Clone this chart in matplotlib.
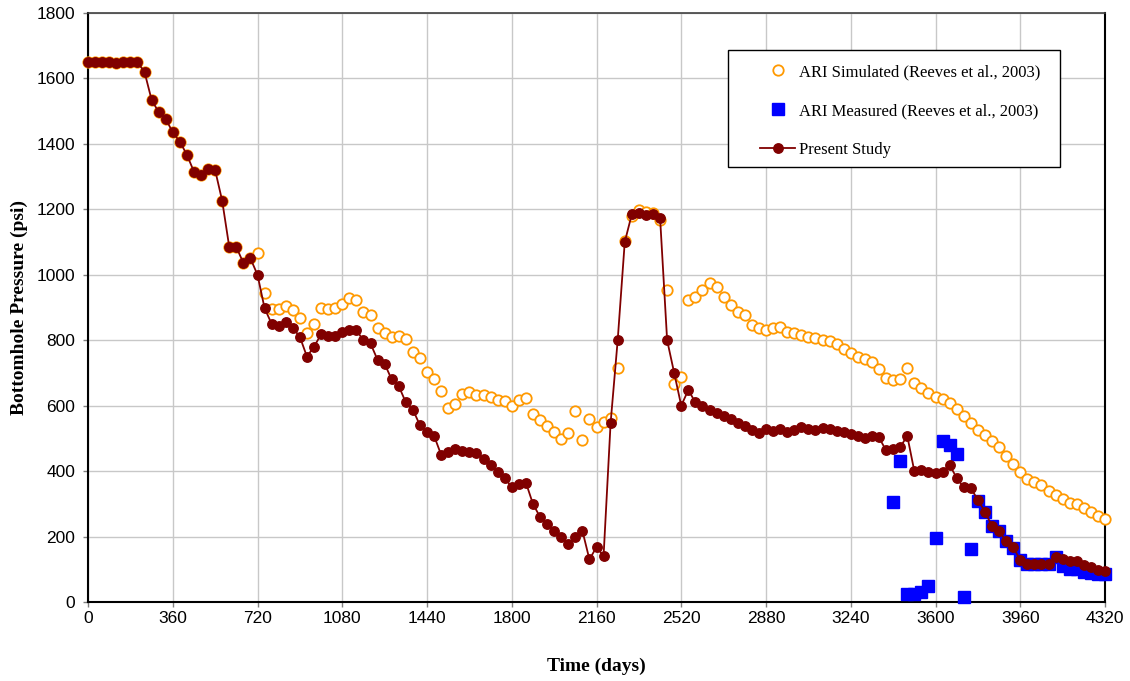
import numpy as np
import matplotlib
matplotlib.use("Agg")
import matplotlib.pyplot as plt
from matplotlib.patches import Rectangle

# time axis (days), one value per month
days = [0, 30, 60, 90, 120, 150, 180, 210, 240, 270, 300, 330, 360, 390, 420, 450,
        480, 510, 540, 570, 600, 630, 660, 690, 720, 750, 780, 810, 840, 870, 900,
        930, 960, 990, 1020, 1050, 1080, 1110, 1140, 1170, 1200, 1230, 1260, 1290,
        1320, 1350, 1380, 1410, 1440, 1470, 1500, 1530, 1560, 1590, 1620, 1650,
        1680, 1710, 1740, 1770, 1800, 1830, 1860, 1890, 1920, 1950, 1980, 2010,
        2040, 2070, 2100, 2130, 2160, 2190, 2220, 2250, 2280, 2310, 2340, 2370,
        2400, 2430, 2460, 2490, 2520, 2550, 2580, 2610, 2640, 2670, 2700, 2730,
        2760, 2790, 2820, 2850, 2880, 2910, 2940, 2970, 3000, 3030, 3060, 3090,
        3120, 3150, 3180, 3210, 3240, 3270, 3300, 3330, 3360, 3390, 3420, 3450,
        3480, 3510, 3540, 3570, 3600, 3630, 3660, 3690, 3720, 3750, 3780, 3810,
        3840, 3870, 3900, 3930, 3960, 3990, 4020, 4050, 4080, 4110, 4140, 4170,
        4200, 4230, 4260, 4290, 4320]

# Present Study bottomhole pressure (psi)
present = [1650, 1650, 1650, 1650, 1648, 1650, 1650, 1650, 1620, 1535, 1497, 1477,
           1435, 1407, 1367, 1315, 1306, 1323, 1320, 1226, 1085, 1085, 1036, 1050,
           1000, 898, 850, 843, 855, 838, 810, 750, 780, 818, 813, 813, 825, 830,
           830, 800, 790, 740, 728, 680, 660, 610, 588, 540, 520, 508, 450, 458,
           468, 462, 457, 454, 438, 418, 398, 380, 350, 361, 365, 300, 260, 238,
           218, 198, 178, 198, 218, 130, 168, 140, 548, 800, 1100, 1185, 1190,
           1182, 1186, 1175, 800, 700, 600, 648, 610, 598, 588, 578, 567, 558, 548,
           537, 527, 517, 528, 524, 528, 518, 526, 534, 528, 525, 531, 528, 524,
           518, 513, 507, 502, 508, 503, 463, 467, 473, 508, 400, 402, 398, 394,
           398, 419, 379, 350, 348, 312, 276, 232, 218, 185, 168, 128, 117, 117,
           117, 117, 137, 130, 124, 124, 114, 108, 99, 94]

# ARI simulated pressure (psi), same days
simulated = [1650, 1650, 1650, 1650, 1648, 1650, 1650, 1650, 1620, 1535, 1497, 1477,
             1435, 1407, 1367, 1315, 1306, 1323, 1320, 1226, 1085, 1085, 1036, 1050,
             1066, 945, 895, 895, 905, 892, 867, 823, 850, 900, 895, 900, 910, 928,
             923, 886, 877, 838, 821, 811, 813, 803, 763, 747, 704, 681, 646, 592,
             605, 636, 643, 633, 633, 627, 617, 615, 599, 618, 622, 576, 557, 537,
             521, 497, 517, 584, 496, 560, 536, 551, 561, 714, 1103, 1181, 1198,
             1193, 1188, 1167, 954, 667, 688, 923, 931, 955, 976, 963, 933, 907,
             885, 877, 847, 838, 832, 838, 840, 826, 823, 816, 811, 806, 800, 797,
             789, 774, 760, 749, 743, 734, 711, 684, 678, 683, 714, 669, 654, 640,
             628, 619, 607, 590, 568, 546, 527, 510, 493, 475, 446, 421, 396, 375,
             368, 358, 340, 327, 314, 303, 299, 286, 274, 263, 253]

# ARI measured pressure (psi)
meas_days = [3420, 3450, 3480, 3510, 3540, 3570, 3600, 3630, 3660, 3690, 3720, 3750,
             3780, 3810, 3840, 3870, 3900, 3930, 3960, 3990, 4020, 4050, 4080, 4110,
             4140, 4170, 4200, 4230, 4260, 4290, 4320]
measured = [305, 430, 25, 25, 30, 50, 195, 492, 480, 453, 15, 163, 310, 276, 232,
            218, 185, 166, 128, 116, 116, 116, 116, 138, 110, 102, 100, 92, 88, 86, 86]

x_ticks = [0, 360, 720, 1080, 1440, 1800, 2160, 2520, 2880, 3240, 3600, 3960, 4320]
y_ticks = [0, 200, 400, 600, 800, 1000, 1200, 1400, 1600, 1800]

W, H = 1130, 681
fig = plt.figure(figsize=(W / 100, H / 100), dpi=100)
ax = fig.add_axes([88 / W, 1 - 602 / H, 1017 / W, 589 / H])

ax.plot(days, simulated, linestyle="none", marker="o", markersize=7.5,
        markerfacecolor="white", markeredgecolor="#FF9900", markeredgewidth=1.3,
        label="ARI Simulated (Reeves et al., 2003)", clip_on=False, zorder=3)
ax.plot(meas_days, measured, linestyle="none", marker="s", markersize=8.5,
        color="#0000FF", label="ARI Measured (Reeves et al., 2003)",
        clip_on=False, zorder=4)
ax.plot(days, present, "-o", color="#800000", linewidth=1.3, markersize=6.8,
        label="Present Study", clip_on=False, zorder=5)

ax.set_xlim(0, 4320)
ax.set_ylim(0, 1800)
ax.set_xticks(x_ticks)
ax.set_yticks(y_ticks)
ax.grid(True, color="#c8c8c8", linewidth=1.0)
ax.set_axisbelow(True)

for lab in ax.get_xticklabels() + ax.get_yticklabels():
    lab.set_fontfamily("Liberation Sans")
    lab.set_fontsize(12.5)
ax.tick_params(axis="both", direction="out", length=3.6, width=1.0, color="#808080")
ax.tick_params(axis="x", pad=3)
ax.tick_params(axis="y", pad=5.5)

for side in ["left", "bottom", "right"]:
    ax.spines[side].set_color("black")
    ax.spines[side].set_linewidth(1.5)
ax.spines["top"].set_color("#404040")
ax.spines["top"].set_linewidth(1.2)

ax.set_xlabel("Time (days)", fontfamily="Liberation Serif", fontweight="bold",
              fontsize=14, labelpad=23)
ax.set_ylabel("Bottomhole Pressure (psi)", fontfamily="Liberation Serif",
              fontweight="bold", fontsize=14, labelpad=6)

# legend box drawn separately so the padding can be uneven
box = Rectangle((728 / W, 1 - 167 / H), 332 / W, 117 / H, transform=fig.transFigure,
                facecolor="white", edgecolor="black", linewidth=1.0, zorder=6,
                clip_on=False)
ax.add_patch(box)
leg = ax.legend(loc="upper left", bbox_to_anchor=(760 / W, 1 - 64 / H),
                bbox_transform=fig.transFigure, frameon=False,
                prop={"family": "Liberation Serif", "size": 12},
                borderpad=0, labelspacing=1.38, handlelength=2.1,
                handletextpad=0.25, borderaxespad=0)
leg.set_zorder(7)

fig.savefig("out.png", dpi=100)
